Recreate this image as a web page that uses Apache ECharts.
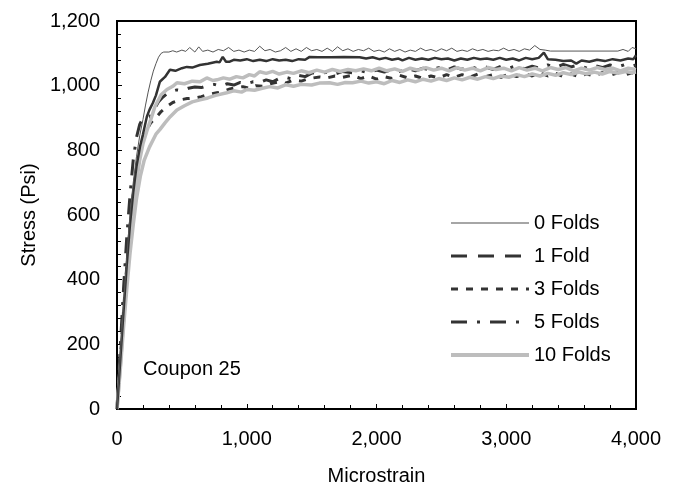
<!DOCTYPE html>
<html>
<head>
<meta charset="utf-8">
<title>Stress vs Microstrain - Coupon 25</title>
<script src="https://cdn.jsdelivr.net/npm/echarts@6/dist/echarts.min.js"></script>
<style>
  html, body { margin: 0; padding: 0; background: #fff; }
  #chart { width: 685px; height: 491px; }
</style>
</head>
<body>
<div id="chart"></div>
<script>
// Axis ranges and tick spacing
const xTicks = [0, 1000, 2000, 3000, 4000];
const yTicks = [0, 200, 400, 600, 800, 1000, 1200];

// Stress-strain curves: [microstrain, stress (psi)]
const folds0 = [
  [0,0],[25,160],[50,320],[75,470],[100,600],[125,700],[150,780],[175,845],[200,895],[220,940],
  [240,980],[260,1015],[280,1045],[300,1068],[320,1088],[340,1100],[360,1104],[400,1104],[430,1108],
  [460,1104],[500,1110],[530,1106],[560,1118],[600,1104],[630,1120],[660,1106],[700,1110],[740,1104],
  [780,1112],[820,1108],[860,1118],[900,1106],[940,1110],[980,1104],[1020,1110],[1060,1106],[1100,1122],
  [1140,1108],[1180,1112],[1220,1104],[1260,1108],[1300,1118],[1340,1106],[1380,1114],[1420,1106],
  [1460,1118],[1500,1108],[1540,1112],[1580,1106],[1620,1116],[1660,1106],[1700,1120],[1740,1108],
  [1780,1114],[1820,1106],[1860,1112],[1900,1108],[1940,1116],[1980,1106],[2020,1110],[2060,1104],
  [2100,1114],[2140,1106],[2180,1112],[2220,1104],[2260,1110],[2300,1106],[2340,1116],[2380,1108],
  [2420,1112],[2460,1106],[2500,1114],[2540,1108],[2580,1116],[2620,1106],[2660,1110],[2700,1106],
  [2740,1114],[2780,1108],[2820,1112],[2860,1106],[2900,1110],[2940,1108],[2980,1116],[3020,1108],
  [3060,1112],[3100,1106],[3140,1114],[3180,1110],[3220,1124],[3260,1112],[3300,1110],[3340,1107],
  [3860,1107],[3900,1112],[3940,1106],[3970,1118],[4000,1114]
];
const folds1 = [
  [0,0],[25,150],[50,300],[75,445],[100,570],[125,670],[150,750],[177,811],[200,850],[230,904],
  [250,925],[277,947],[300,970],[330,1012],[370,1027],[408,1049],[450,1046],[500,1054],[538,1058],
  [580,1056],[638,1064],[700,1068],[769,1074],[790,1072],[815,1089],[840,1074],[869,1074],[900,1080],
  [950,1078],[1000,1082],[1050,1076],[1100,1080],[1150,1076],[1200,1082],[1250,1078],[1300,1080],
  [1350,1076],[1400,1082],[1450,1080],[1485,1089],[1550,1088],[1650,1088],[1750,1089],[1870,1088],
  [1920,1084],[1970,1088],[2020,1082],[2070,1086],[2120,1080],[2170,1084],[2200,1078],[2250,1086],
  [2300,1080],[2350,1084],[2400,1080],[2450,1086],[2500,1082],[2550,1084],[2600,1078],[2650,1084],
  [2700,1080],[2750,1086],[2800,1082],[2850,1084],[2900,1080],[2950,1086],[3000,1080],[3050,1084],
  [3100,1078],[3150,1086],[3200,1082],[3250,1086],[3290,1102],[3320,1082],[3380,1080],[3440,1076],
  [3500,1078],[3540,1068],[3580,1078],[3640,1074],[3700,1080],[3760,1076],[3820,1082],[3880,1078],
  [3940,1084],[3980,1082],[4000,1094]
];
const folds3 = [
  [0,0],[25,150],[50,300],[75,440],[100,560],[125,660],[150,740],[177,790],[200,830],[230,864],
  [260,885],[306,904],[340,920],[383,935],[430,948],[485,956],[540,960],[600,962],[650,966],[700,972],
  [769,978],[820,982],[870,990],[920,994],[970,997],[1020,992],[1070,1000],[1120,998],[1180,1006],
  [1254,1012],[1300,1008],[1360,1018],[1420,1014],[1480,1022],[1562,1027],[1620,1024],[1680,1030],
  [1740,1026],[1815,1032],[1880,1022],[1940,1030],[2000,1020],[2060,1028],[2120,1022],[2180,1032],
  [2240,1024],[2300,1030],[2360,1022],[2420,1030],[2480,1024],[2540,1034],[2600,1026],[2660,1034],
  [2720,1026],[2780,1036],[2840,1028],[2900,1034],[2960,1026],[3020,1036],[3080,1028],[3140,1038],
  [3200,1030],[3260,1040],[3320,1030],[3380,1038],[3440,1028],[3500,1036],[3560,1028],[3620,1036],
  [3680,1030],[3740,1040],[3800,1032],[3860,1040],[3920,1034],[3970,1040],[4000,1036]
];
const folds5 = [
  [0,0],[25,190],[50,370],[75,530],[100,660],[125,770],[150,840],[175,880],[200,900],[254,904],
  [277,920],[320,950],[354,965],[400,980],[462,987],[500,985],[550,992],[600,996],[650,994],[700,1000],
  [750,1004],[800,998],[850,1006],[900,1002],[950,1010],[1000,1006],[1050,1012],[1100,1010],[1150,1018],
  [1200,1012],[1250,1022],[1300,1026],[1350,1020],[1400,1032],[1450,1028],[1508,1040],[1560,1036],
  [1620,1042],[1680,1036],[1740,1044],[1815,1040],[1880,1046],[1940,1040],[2000,1048],[2060,1042],
  [2120,1050],[2180,1044],[2240,1052],[2300,1046],[2360,1054],[2420,1048],[2480,1056],[2540,1048],
  [2600,1058],[2660,1050],[2720,1060],[2780,1052],[2840,1058],[2900,1050],[2960,1060],[3020,1054],
  [3080,1062],[3140,1052],[3200,1060],[3260,1054],[3320,1064],[3380,1056],[3440,1066],[3500,1058],
  [3560,1064],[3620,1054],[3680,1062],[3740,1056],[3800,1064],[3860,1058],[3920,1066],[3970,1060],
  [4000,1064]
];
const folds10a = [
  [0,0],[25,130],[50,270],[75,400],[100,520],[125,620],[150,700],[175,770],[200,820],[230,860],
  [260,895],[292,935],[340,972],[385,988],[430,998],[462,1009],[520,1006],[580,1014],[640,1012],
  [692,1024],[740,1016],[770,1018],[820,1024],[870,1020],[920,1028],[970,1024],[1020,1034],[1060,1030],
  [1100,1043],[1150,1038],[1200,1044],[1250,1036],[1308,1042],[1360,1038],[1420,1046],[1480,1040],
  [1540,1048],[1600,1042],[1660,1050],[1720,1044],[1780,1050],[1840,1046],[1900,1052],[1960,1046],
  [2020,1054],[2080,1046],[2140,1052],[2200,1044],[2260,1054],[2320,1048],[2380,1056],[2440,1048],
  [2500,1054],[2560,1046],[2620,1056],[2680,1048],[2740,1054],[2800,1046],[2860,1056],[2920,1050],
  [2980,1054],[3040,1046],[3100,1056],[3160,1048],[3220,1054],[3280,1046],[3340,1056],[3400,1050],
  [3460,1056],[3520,1046],[3580,1054],[3640,1048],[3700,1056],[3760,1050],[3820,1054],[3880,1046],
  [3940,1054],[4000,1050]
];
const folds10b = [
  [0,0],[25,120],[50,250],[75,370],[100,480],[125,570],[150,650],[180,720],[210,770],[250,810],
  [300,850],[330,864],[370,885],[410,904],[462,925],[520,938],[580,950],[640,956],[700,962],[760,970],
  [846,978],[900,984],[960,980],[1000,988],[1060,986],[1120,992],[1177,997],[1240,993],[1303,1003],
  [1360,998],[1420,1004],[1500,1002],[1560,1008],[1638,1009],[1700,1004],[1760,1010],[1815,1009],
  [1880,1014],[1940,1008],[2000,1012],[2060,1006],[2120,1016],[2180,1010],[2240,1018],[2300,1012],
  [2360,1020],[2420,1014],[2480,1022],[2540,1016],[2600,1024],[2660,1018],[2720,1026],[2780,1020],
  [2840,1028],[2900,1022],[2960,1030],[3020,1026],[3080,1034],[3140,1028],[3200,1036],[3260,1030],
  [3320,1038],[3380,1032],[3440,1040],[3500,1034],[3560,1042],[3620,1036],[3680,1042],[3740,1036],
  [3800,1044],[3860,1038],[3920,1044],[3970,1040],[4000,1042]
];

const FONT = '"Liberation Sans", Arial, sans-serif';
const FS = 20;
const comma = v => String(v).replace(/\B(?=(\d{3})+(?!\d))/g, ',');

const chart = echarts.init(document.getElementById('chart'), null, { renderer: 'canvas' });

const dark = '#333333';
const gray = '#bdbdbd';

const styles = {
  '0 Folds': { color: '#555', width: 1 },
  '1 Fold': { color: dark, width: 2.5 },
  '3 Folds': { color: dark, width: 3, type: [7, 8] },
  '5 Folds': { color: dark, width: 3, type: [16, 10, 3, 10] },
  '10 Folds': { color: gray, width: 3.5 }
};

function line(name, data, z) {
  return {
    name, type: 'line', data, z,
    symbol: 'none', showSymbol: false, smooth: false,
    color: styles[name].color,
    itemStyle: { color: styles[name].color },
    lineStyle: styles[name],
    emphasis: { disabled: true },
    animation: false
  };
}

chart.setOption({
  animation: false,
  backgroundColor: '#fff',
  textStyle: { fontFamily: FONT },
  title: {
    text: 'Coupon 25',
    left: 138, top: 354,
    textStyle: { fontFamily: FONT, fontSize: FS, fontWeight: 'normal', color: '#000' }
  },
  legend: {
    orient: 'vertical',
    left: 444, top: 208,
    itemWidth: 78, itemHeight: 14, itemGap: 13,
    textStyle: { fontFamily: FONT, fontSize: FS, color: '#000' },
    selectedMode: false,
    data: [
      { name: '0 Folds', itemStyle: { opacity: 0 }, lineStyle: { color: '#888', width: 1.5 } },
      { name: '1 Fold', itemStyle: { opacity: 0 }, lineStyle: { color: dark, width: 3, type: [16, 11] } },
      { name: '3 Folds', itemStyle: { opacity: 0 }, lineStyle: { color: dark, width: 3, type: [7, 8] } },
      { name: '5 Folds', itemStyle: { opacity: 0 }, lineStyle: { color: dark, width: 3, type: [16, 10, 3, 10] } },
      { name: '10 Folds', itemStyle: { opacity: 0 }, lineStyle: { color: gray, width: 4 } }
    ]
  },
  grid: {
    left: 117, right: 49, top: 21, bottom: 81,
    show: true, borderColor: '#000', borderWidth: 2, backgroundColor: 'transparent'
  },
  xAxis: {
    type: 'value',
    min: xTicks[0], max: xTicks[xTicks.length - 1], interval: 1000,
    name: 'Microstrain', nameLocation: 'middle', nameGap: 57,
    nameTextStyle: { fontFamily: FONT, fontSize: FS, color: '#000' },
    axisLine: { show: true, lineStyle: { color: '#000', width: 2 } },
    axisTick: { show: true, inside: true, length: 5, lineStyle: { color: '#000', width: 1 } },
    minorTick: { show: true, splitNumber: 5, length: 4, lineStyle: { color: '#000', width: 1 } },
    axisLabel: { fontFamily: FONT, fontSize: FS, color: '#000', margin: 20, formatter: comma },
    splitLine: { show: false }
  },
  yAxis: {
    type: 'value',
    min: yTicks[0], max: yTicks[yTicks.length - 1], interval: 200,
    name: 'Stress (Psi)', nameLocation: 'middle', nameGap: 70, nameRotate: 90,
    nameTextStyle: { fontFamily: FONT, fontSize: FS, color: '#000' },
    axisLine: { show: true, lineStyle: { color: '#000', width: 2 } },
    axisTick: { show: true, inside: true, length: 5, lineStyle: { color: '#000', width: 1 } },
    minorTick: { show: true, splitNumber: 5, length: 4, lineStyle: { color: '#000', width: 1 } },
    axisLabel: { fontFamily: FONT, fontSize: FS, color: '#000', margin: 17, formatter: comma },
    splitLine: { show: false }
  },
  series: [
    line('3 Folds', folds3, 2),
    line('5 Folds', folds5, 2),
    line('10 Folds', folds10b, 3),
    line('10 Folds', folds10a, 3),
    line('1 Fold', folds1, 4),
    line('0 Folds', folds0, 5)
  ]
});
</script>
</body>
</html>
